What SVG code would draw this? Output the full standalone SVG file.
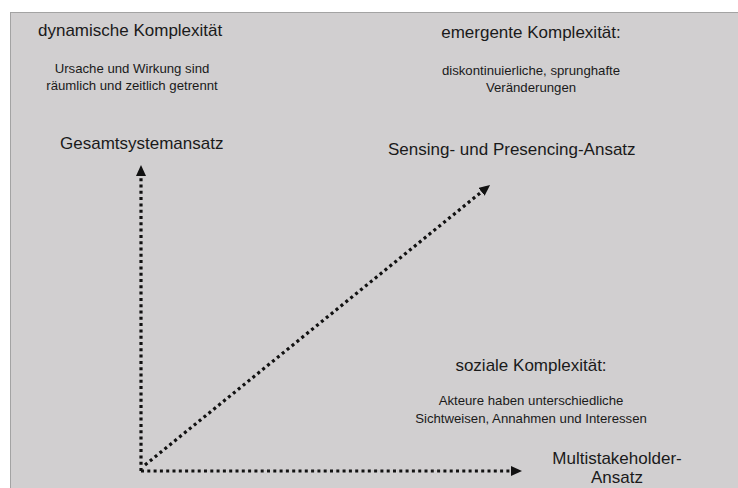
<svg xmlns="http://www.w3.org/2000/svg" width="738" height="488" viewBox="0 0 738 488">
  <defs>
    <marker id="arrow" markerUnits="userSpaceOnUse" markerWidth="12" markerHeight="10" refX="0" refY="5" orient="auto">
      <path d="M0,0 L11,5 L0,10 Z" fill="#111"/>
    </marker>
    <style>
      .head { font-family: "Liberation Sans", Arial, sans-serif; font-size: 17px; fill: #1a1a1a; }
      .desc { font-family: "Liberation Sans", Arial, sans-serif; font-size: 13.2px; fill: #1a1a1a; text-anchor: middle; }
      .mid { text-anchor: middle; }
      .axis { stroke: #111; stroke-width: 3.2; stroke-dasharray: 3 3.3; fill: none; marker-end: url(#arrow); }
    </style>
  </defs>

  <!-- page background and slide panel -->
  <rect x="0" y="0" width="738" height="488" fill="#ffffff"/>
  <rect x="10.5" y="12.5" width="740" height="490" fill="#d1cfd0" stroke="#a3a3a3" stroke-width="1"/>

  <!-- connectors: the three dotted axes -->
  <g id="connectors">
    <line class="axis" x1="141" y1="471" x2="141" y2="176"/>
    <line class="axis" x1="141" y1="471" x2="511" y2="471"/>
    <line class="axis" x1="145" y1="465" x2="481.5" y2="191.9"/>
  </g>

  <!-- upper left: dynamic complexity -->
  <g id="dynamisch">
    <text class="head" x="38" y="36">dynamische Komplexität</text>
    <text class="desc" x="132" y="73">Ursache und Wirkung sind</text>
    <text class="desc" x="132" y="90">räumlich und zeitlich getrennt</text>
    <text class="head" x="60" y="149">Gesamtsystemansatz</text>
  </g>

  <!-- upper right: emergent complexity -->
  <g id="emergent">
    <text class="head mid" x="531" y="38">emergente Komplexität:</text>
    <text class="desc" x="531" y="75">diskontinuierliche, sprunghafte</text>
    <text class="desc" x="531" y="92">Veränderungen</text>
    <text class="head" x="388" y="155">Sensing- und Presencing-Ansatz</text>
  </g>

  <!-- lower right: social complexity -->
  <g id="sozial">
    <text class="head mid" x="531" y="371">soziale Komplexität:</text>
    <text class="desc" x="531" y="405">Akteure haben unterschiedliche</text>
    <text class="desc" x="531" y="423">Sichtweisen, Annahmen und Interessen</text>
    <text class="head mid" x="617" y="464">Multistakeholder-</text>
    <text class="head mid" x="617" y="483">Ansatz</text>
  </g>
</svg>
